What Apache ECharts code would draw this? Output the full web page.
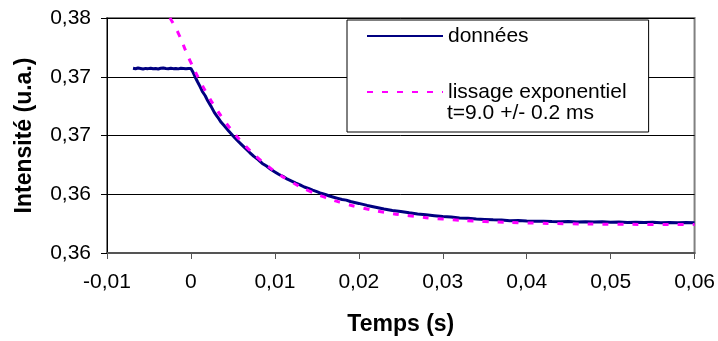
<!DOCTYPE html>
<html>
<head>
<meta charset="utf-8">
<script src="https://cdn.jsdelivr.net/npm/echarts@6/dist/echarts.min.js"></script>
<style>
html,body{margin:0;padding:0;background:#fff;}
#chart{width:718px;height:341px;}
</style>
</head>
<body>
<div id="chart"></div>
<script>
// ---- data ----
const seriesNames = ['données', 'lissage exponentiel'];
const fitNote = 't=9.0 +/- 0.2 ms';
const xTitle = 'Temps (s)';
const yTitle = 'Intensité (u.a.)';

const xMin = -0.01, xMax = 0.06, xInterval = 0.01;
const xTickLabels = ['-0,01', '0', '0,01', '0,02', '0,03', '0,04', '0,05', '0,06'];
const yMin = 0.355, yMax = 0.375, yInterval = 0.005;
const yTickLabels = ['0,36', '0,36', '0,37', '0,37', '0,38'];

const dataT = [-0.0069,-0.0066,-0.0063,-0.0060,-0.0057,-0.0054,-0.0051,-0.0048,-0.0045,-0.0042,-0.0039,-0.0036,-0.0033,-0.0030,-0.0027,-0.0024,-0.0021,-0.0018,-0.0015,-0.0012,-0.0009,-0.0006,-0.0003,0.0000,
  0.0002,0.0005,0.0008,0.0011,0.0014,0.0017,0.0020,0.0024,0.0028,0.0032,0.0036,0.0040,0.0045,0.0050,0.0055,0.0060,0.0065,0.0070,0.0075,0.0080,0.0085,0.0090,0.0095,0.0100,
  0.0105,0.0110,0.0115,0.0120,0.0125,0.0130,0.0135,0.0140,0.0145,0.0150,0.0155,0.0160,0.0165,0.0170,0.0175,0.0180,0.0185,0.0190,0.0195,0.0200,
  0.0210,0.0220,0.0230,0.0240,0.0250,0.0260,0.0270,0.0280,0.0290,0.0300,0.0310,0.0320,0.0330,0.0340,0.0350,0.0360,0.0370,0.0380,0.0390,0.0400,
  0.0410,0.0420,0.0430,0.0440,0.0450,0.0460,0.0470,0.0480,0.0490,0.0500,0.0510,0.0520,0.0530,0.0540,0.0550,0.0560,0.0570,0.0580,0.0590,0.0600];
const dataY = [0.37072,0.37068,0.37074,0.37070,0.37066,0.37071,0.37069,0.37073,0.37068,0.37070,0.37066,0.37072,0.37075,0.37070,0.37068,0.37073,0.37069,0.37071,0.37067,0.37072,0.37070,0.37068,0.37071,0.37070,
  0.37045,0.36998,0.36955,0.36915,0.36870,0.36838,0.36795,0.36748,0.36695,0.36655,0.36612,0.36580,0.36538,0.36498,0.36460,0.36425,0.36390,0.36355,0.36322,0.36295,0.36262,0.36240,0.36212,0.36190,
  0.36168,0.36150,0.36128,0.36112,0.36095,0.36080,0.36062,0.36050,0.36035,0.36022,0.36008,0.35998,0.35985,0.35975,0.35965,0.35955,0.35950,0.35938,0.35930,0.35922,
  0.35905,0.35890,0.35875,0.35862,0.35853,0.35842,0.35832,0.35825,0.35818,0.35810,0.35806,0.35798,0.35795,0.35790,0.35786,0.35782,0.35780,0.35775,0.35776,0.35772,
  0.35770,0.35771,0.35768,0.35766,0.35768,0.35764,0.35766,0.35763,0.35765,0.35762,0.35764,0.35760,0.35762,0.35759,0.35761,0.35758,0.35760,0.35757,0.35760,0.35758];

const fitT = [-0.0025,-0.0015,-0.0005,0.0000,0.0010,0.0020,0.0030,0.0040,0.0050,0.0060,0.0070,0.0080,0.0090,0.0100,0.0120,0.0140,0.0160,0.0180,0.0200,0.0230,0.0260,0.0300,0.0350,0.0400,0.0450,0.0500,0.0550,0.0600];
const fitY = [0.37500,0.37370,0.37200,0.37120,0.36975,0.36845,0.36729,0.36625,0.36532,0.36449,0.36374,0.36307,0.36248,0.36194,0.36104,0.36031,0.35973,0.35927,0.35890,0.35847,0.35817,0.35789,0.35768,0.35756,0.35749,0.35745,0.35743,0.35742];

// ---- chart ----
const FONT = '"Liberation Sans", Arial, sans-serif';
const pairs = (xs, ys) => xs.map((x, i) => [x, ys[i]]);
const chart = echarts.init(document.getElementById('chart'), null, {renderer: 'canvas'});
chart.setOption({
  animation: false,
  backgroundColor: '#ffffff',
  textStyle: {fontFamily: FONT, color: '#000'},
  grid: {left: 107, right: 21, top: 18, bottom: 86, show: true, borderColor: '#808080', borderWidth: 2, backgroundColor: 'transparent'},
  legend: {
    orient: 'vertical', left: 347, top: 20,
    padding: [5, 22, 29, 19], itemGap: 34,
    itemWidth: 76, itemHeight: 14,
    backgroundColor: '#fff', borderColor: '#000', borderWidth: 1, borderRadius: 0,
    itemStyle: {opacity: 0},
    textStyle: {fontFamily: FONT, fontSize: 21, color: '#000', lineHeight: 22},
    data: seriesNames,
    selectedMode: false
  },
  graphic: [{
    type: 'text', left: 447, top: 103, z: 100,
    style: {text: fitNote, fill: '#000', font: '21px ' + FONT}
  }],
  xAxis: {
    type: 'value', min: xMin, max: xMax, interval: xInterval,
    name: xTitle, nameLocation: 'middle', nameGap: 60,
    nameTextStyle: {fontFamily: FONT, fontSize: 23, fontWeight: 'bold', color: '#000'},
    axisLine: {show: true, onZero: false, lineStyle: {color: '#555', width: 2}},
    axisTick: {show: true, length: 6, lineStyle: {color: '#555', width: 1}},
    axisLabel: {margin: 19, fontFamily: FONT, fontSize: 21, color: '#000',
      formatter: v => xTickLabels[Math.round((v - xMin) / xInterval)]},
    splitLine: {show: false}
  },
  yAxis: {
    type: 'value', min: yMin, max: yMax, interval: yInterval,
    name: yTitle, nameLocation: 'middle', nameGap: 71, nameRotate: 90,
    nameTextStyle: {fontFamily: FONT, fontSize: 23, fontWeight: 'bold', color: '#000'},
    axisLine: {show: true, onZero: false, lineStyle: {color: '#000', width: 1}},
    axisTick: {show: true, length: 6, lineStyle: {color: '#000', width: 1}},
    axisLabel: {margin: 16, fontFamily: FONT, fontSize: 21, color: '#000',
      formatter: v => yTickLabels[Math.round((v - yMin) / yInterval)]},
    splitLine: {show: true, lineStyle: {color: '#000', width: 1}}
  },
  series: [
    {
      name: seriesNames[0], type: 'line', data: pairs(dataT, dataY),
      showSymbol: false, symbol: 'none', smooth: false,
      lineStyle: {color: '#000080', width: 3},
      itemStyle: {color: '#000080'}, z: 2
    },
    {
      name: seriesNames[1], type: 'line', data: pairs(fitT, fitY),
      showSymbol: false, symbol: 'none', smooth: true,
      lineStyle: {color: '#ff00ff', width: 3, type: [6, 9]},
      itemStyle: {color: '#ff00ff'}, z: 3
    }
  ]
});
</script>
</body>
</html>
